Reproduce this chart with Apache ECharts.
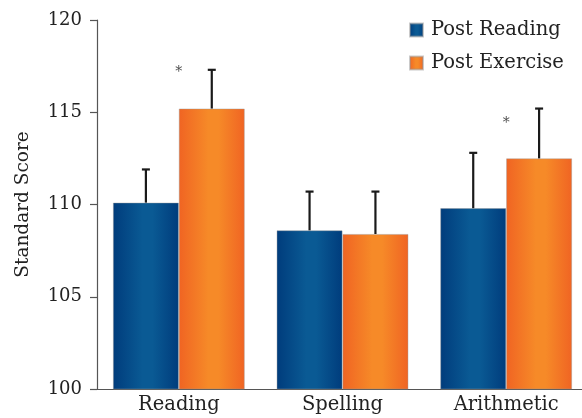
<!DOCTYPE html>
<html>
<head>
<meta charset="utf-8">
<script src="https://cdn.jsdelivr.net/npm/echarts@6/dist/echarts.min.js"></script>
<style>
  html, body { margin: 0; padding: 0; background: #fff; }
  #chart { width: 582px; height: 418px; }
</style>
</head>
<body>
<div id="chart"></div>
<script>
// Mean standard scores per subject, with the upper end of each error bar
const categories = ['Reading', 'Spelling', 'Arithmetic'];
const postReading = [110.1, 108.6, 109.8];
const postReadingUpper = [111.9, 110.7, 112.8];
const postExercise = [115.2, 108.4, 112.5];
const postExerciseUpper = [117.3, 110.7, 115.2];
// Significance markers: [category index, height]
const significance = [[0, 117.15], [2, 114.4]];
const yTicks = { min: 100, max: 120, step: 5 };

const FONT = 'DejaVu Serif';
const CAT_GAP = 0.195;

function barGradient(edge, mid) {
  return new echarts.graphic.LinearGradient(0, 0, 1, 0, [
    { offset: 0, color: edge },
    { offset: 0.45, color: mid },
    { offset: 0.6, color: mid },
    { offset: 1, color: edge }
  ]);
}

function errorBarSeries(values, uppers, side) {
  return {
    type: 'custom',
    data: values.map((v, i) => [i, v, uppers[i]]),
    encode: { x: 0, y: [1, 2] },
    z: 5,
    silent: true,
    renderItem: function (params, api) {
      const band = api.size([1, 0])[0];
      const shift = side * band * (1 - CAT_GAP) / 4;
      const base = api.coord([api.value(0), api.value(1)]);
      const top = api.coord([api.value(0), api.value(2)]);
      const x = base[0] + shift;
      const cap = 4;
      const style = { stroke: '#1a1a1a', lineWidth: 2.2 };
      return {
        type: 'group',
        children: [
          { type: 'line', shape: { x1: x, y1: base[1], x2: x, y2: top[1] }, style: style },
          { type: 'line', shape: { x1: x - cap, y1: top[1], x2: x + cap, y2: top[1] }, style: style }
        ]
      };
    }
  };
}

const chart = echarts.init(document.getElementById('chart'));
chart.setOption({
  animation: false,
  textStyle: { fontFamily: FONT },
  grid: { left: 97, top: 20, width: 491, height: 369, outerBoundsMode: 'none' },
  legend: {
    data: ['Post Reading', 'Post Exercise'],
    orient: 'vertical',
    left: 404,
    top: 15,
    icon: 'rect',
    itemWidth: 13,
    itemHeight: 13,
    itemGap: 13,
    textStyle: { fontFamily: FONT, fontSize: 19.5, color: '#222', padding: [0, 0, 0, 3] }
  },
  xAxis: {
    type: 'category',
    data: categories,
    axisLine: { lineStyle: { color: '#555', width: 1.2 } },
    axisTick: { length: 6, lineStyle: { color: '#555', width: 1.2 } },
    axisLabel: { fontFamily: FONT, fontSize: 19.5, color: '#222', margin: 6 }
  },
  yAxis: {
    type: 'value',
    min: yTicks.min,
    max: yTicks.max,
    interval: yTicks.step,
    name: 'Standard Score',
    nameLocation: 'middle',
    nameRotate: 90,
    nameGap: 64,
    nameTextStyle: { fontFamily: FONT, fontSize: 18.5, color: '#222' },
    axisLine: { show: true, lineStyle: { color: '#555', width: 1.2 } },
    axisTick: { show: true, length: 7, lineStyle: { color: '#555', width: 1.2 } },
    axisLabel: { fontFamily: FONT, fontSize: 18, color: '#222', margin: 15 },
    splitLine: { show: false }
  },
  series: [
    {
      name: 'Post Reading',
      type: 'bar',
      data: postReading,
      barGap: '0%',
      barCategoryGap: (CAT_GAP * 100) + '%',
      color: '#014a8a',
      itemStyle: {
        color: barGradient('#003c7c', '#0a5a94'),
        borderColor: 'rgba(150,150,150,0.5)',
        borderWidth: 0.8
      }
    },
    {
      name: 'Post Exercise',
      type: 'bar',
      data: postExercise,
      color: '#f5832a',
      itemStyle: {
        color: barGradient('#f06423', '#f68a28'),
        borderColor: 'rgba(150,150,150,0.5)',
        borderWidth: 0.8
      }
    },
    errorBarSeries(postReading, postReadingUpper, -1),
    errorBarSeries(postExercise, postExerciseUpper, 1),
    {
      type: 'scatter',
      data: significance,
      symbolSize: 0,
      silent: true,
      z: 6,
      label: {
        show: true,
        formatter: '*',
        position: 'inside',
        fontFamily: FONT,
        fontSize: 14,
        color: '#222'
      }
    }
  ]
});
</script>
</body>
</html>
